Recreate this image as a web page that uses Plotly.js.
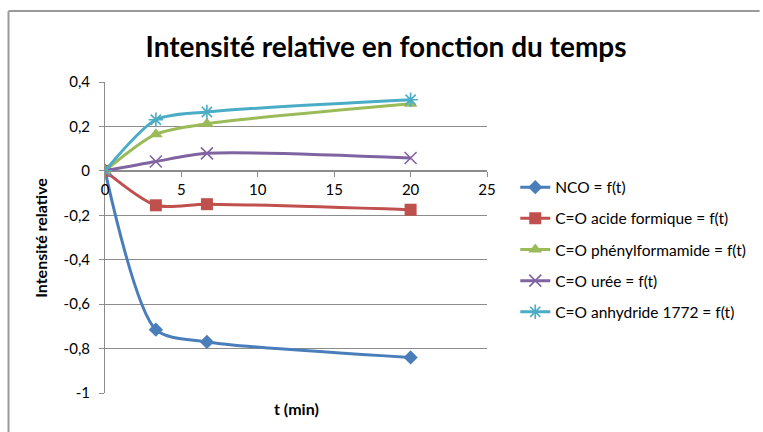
<!DOCTYPE html>
<html>
<head>
<meta charset="utf-8">
<script src="https://cdn.plot.ly/plotly-3.0.1.min.js"></script>
<style>
html,body{margin:0;padding:0;background:#fff;}
#chart{width:763px;height:432px;}
</style>
</head>
<body>
<div id="chart"></div>
<script>
// Data
const tMin = [0, 3.33, 6.67, 20];
const nco = [0, -0.715, -0.77, -0.84];
const acideFormique = [0, -0.155, -0.15, -0.175];
const phenylformamide = [0, 0.165, 0.212, 0.302];
const uree = [0, 0.042, 0.079, 0.058];
const anhydride1772 = [0, 0.23, 0.265, 0.32];

const seriesNames = [
  "NCO = f(t)",
  "C=O acide formique = f(t)",
  "C=O phénylformamide = f(t)",
  "C=O urée = f(t)",
  "C=O anhydride 1772 = f(t)"
];

const xTickVals = [0, 5, 10, 15, 20, 25];
const xTickText = ["0", "5", "10", "15", "20", "25"];
const yTickVals = [-1, -0.8, -0.6, -0.4, -0.2, 0, 0.2, 0.4];
const yTickText = ["-1", "-0,8", "-0,6", "-0,4", "-0,2", "0", "0,2", "0,4"];

const FONT = "Lato, 'Open Sans', sans-serif";
const colors = ["#4A7EBB", "#C0504D", "#9BBB59", "#8064A2", "#4BACC6"];
const symbols = ["diamond", "square", "triangle-up", "x-thin-open", "asterisk-open"];
const sizes = [11, 12, 12, 12, 12];
const ys = [nco, acideFormique, phenylformamide, uree, anhydride1772];

const traces = ys.map((y, i) => ({
  x: tMin,
  y: y,
  name: seriesNames[i],
  legendgroup: "g" + i,
  type: "scatter",
  mode: "lines+markers",
  line: {color: colors[i], width: 3, shape: "spline", smoothing: 0.75},
  marker: {
    symbol: symbols[i],
    size: sizes[i],
    color: colors[i],
    line: {color: colors[i], width: (i >= 3 ? 1.6 : 0)}
  }
}));

const layout = {
  width: 763,
  height: 432,
  paper_bgcolor: "#ffffff",
  plot_bgcolor: "#ffffff",
  separators: ", ",
  margin: {l: 105, r: 274, t: 82, b: 39},
  font: {family: FONT, size: 15, color: "#000"},
  title: {
    text: "<b>Intensité relative en fonction du temps</b>",
    font: {family: FONT, size: 28, color: "#000"},
    xref: "container", x: 0.506, xanchor: "center",
    yref: "container", y: 1 - 47/432, yanchor: "middle"
  },
  xaxis: {
    range: [0, 25],
    tickvals: xTickVals,
    ticktext: xTickText,
    anchor: "free",
    position: 1/1.4,
    showgrid: false,
    zeroline: false,
    showline: true,
    linecolor: "#8c8c8c",
    linewidth: 1,
    ticks: "outside",
    ticklen: 5,
    tickcolor: "#8c8c8c",
    tickfont: {family: FONT, size: 15, color: "#000"},
    fixedrange: true
  },
  yaxis: {
    range: [-1, 0.4],
    domain: [0, 1],
    tickvals: yTickVals,
    ticktext: yTickText,
    showgrid: true,
    gridcolor: "#8c8c8c",
    gridwidth: 1,
    zeroline: false,
    showline: true,
    linecolor: "#8c8c8c",
    linewidth: 1,
    ticks: "outside",
    ticklen: 5,
    tickcolor: "#8c8c8c",
    ticklabelstandoff: 6,
    tickfont: {family: FONT, size: 15, color: "#000"},
    fixedrange: true
  },
  showlegend: true,
  legend: {
    x: 1.074, xanchor: "left",
    y: 0.715, yanchor: "top",
    traceorder: "grouped",
    tracegroupgap: 8,
    font: {family: FONT, size: 15.5, color: "#000"},
    bgcolor: "rgba(0,0,0,0)",
    itemwidth: 30
  },
  annotations: [
    {
      text: "<b>t (min)</b>",
      xref: "paper", yref: "paper",
      x: 0.5, y: (393 - 408) / 311,
      xanchor: "center", yanchor: "middle",
      showarrow: false,
      font: {family: FONT, size: 16, color: "#000"}
    },
    {
      text: "<b>Intensité relative</b>",
      xref: "paper", yref: "paper",
      x: (40 - 105) / 384, y: 0.5,
      xanchor: "center", yanchor: "middle",
      textangle: -90,
      showarrow: false,
      font: {family: FONT, size: 16, color: "#000"}
    }
  ],
  shapes: [
    {type: "line", xref: "paper", yref: "paper",
     x0: (8 - 105) / 384, x1: (763 - 105) / 384,
     y0: (393 - 11) / 311, y1: (393 - 11) / 311,
     line: {color: "#9a9a9a", width: 2}},
    {type: "line", xref: "paper", yref: "paper",
     x0: (8 - 105) / 384, x1: (8 - 105) / 384,
     y0: (393 - 11) / 311, y1: (393 - 440) / 311,
     line: {color: "#9a9a9a", width: 2}}
  ]
};

Plotly.newPlot("chart", traces, layout, {displayModeBar: false, staticPlot: true});
</script>
</body>
</html>
